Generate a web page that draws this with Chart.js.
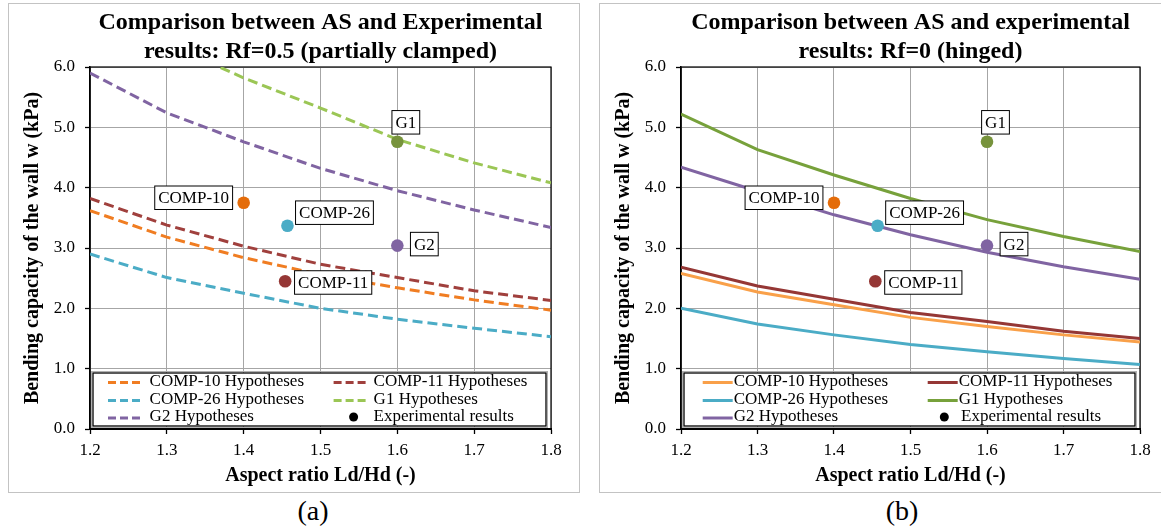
<!DOCTYPE html>
<html>
<head>
<meta charset="utf-8">
<script src="https://cdn.jsdelivr.net/npm/chart.js@4.4.0/dist/chart.umd.min.js"></script>
<style>
  body { margin: 0; background: #fff; width: 1161px; height: 528px; overflow: hidden; position: relative; font-family: "Liberation Serif", serif; }
  .panel { position: absolute; border: 1.5px solid #c3c3c3; box-sizing: border-box; }
  #boxA { left: 8px; top: 3px; width: 572px; height: 490px; }
  #boxB { left: 599px; top: 3px; width: 570px; height: 490px; }
  canvas { position: absolute; }
  #chartA { left: 9px; top: 5px; }
  #chartB { left: 600px; top: 5px; }
  .cap { position: absolute; top: 495px; width: 60px; font-size: 28px; line-height: 32px; text-align: center; }
</style>
</head>
<body>
<div class="panel" id="boxA"></div>
<div class="panel" id="boxB"></div>
<canvas id="chartA" width="570" height="486"></canvas>
<canvas id="chartB" width="561" height="486"></canvas>
<div class="cap" style="left:283px">(a)</div>
<div class="cap" style="left:872px">(b)</div>
<script>
// aspect ratios and axis ticks
const ratios = [1.2, 1.3, 1.4, 1.5, 1.6, 1.7, 1.8];
const xTicks = [1.2, 1.3, 1.4, 1.5, 1.6, 1.7, 1.8];
const yTicks = [0, 1, 2, 3, 4, 5, 6];
const seriesNames = ["COMP-10 Hypotheses", "COMP-11 Hypotheses", "COMP-26 Hypotheses", "G1 Hypotheses", "G2 Hypotheses"];

// Rf = 0.5 (partially clamped)
const clampComp10 = [3.62, 3.18, 2.84, 2.56, 2.34, 2.14, 1.97];
const clampComp11 = [3.82, 3.38, 3.03, 2.73, 2.51, 2.29, 2.13];
const clampComp26 = [2.90, 2.51, 2.25, 2.00, 1.82, 1.67, 1.53];
const clampG1 = [7.20, 6.39, 5.82, 5.32, 4.80, 4.41, 4.08];
const clampG2 = [5.90, 5.24, 4.76, 4.32, 3.95, 3.63, 3.34];

// Rf = 0 (hinged)
const hingeComp10 = [2.58, 2.27, 2.06, 1.85, 1.70, 1.56, 1.44];
const hingeComp11 = [2.68, 2.37, 2.15, 1.93, 1.78, 1.62, 1.50];
const hingeComp26 = [2.00, 1.74, 1.56, 1.40, 1.28, 1.17, 1.07];
const hingeG1 = [5.22, 4.63, 4.21, 3.82, 3.47, 3.19, 2.94];
const hingeG2 = [4.34, 3.94, 3.55, 3.22, 2.93, 2.69, 2.48];

// experimental results
const specimens = ["COMP-10", "COMP-26", "G1", "G2", "COMP-11"];
const testRatio = [1.40, 1.457, 1.60, 1.60, 1.454];
const testCapacity = [3.75, 3.37, 4.76, 3.04, 2.45];

const SERIF = '"Liberation Serif", "Times New Roman", serif';
const pointColors = ["#E46C0A", "#4BACC6", "#77933C", "#8064A2", "#953735"];
// tag box offsets from each point (px)
const tagDx = [-50, 47, 8.5, 27, 48];
const tagDy = [-5, -13, -19.5, -1.5, 1.3];

// white boxes with the specimen names
const pointTags = {
  id: "pointTags",
  afterDatasetsDraw(chart) {
    const meta = chart.getDatasetMeta(chart.data.datasets.length - 1);
    const ctx = chart.ctx;
    ctx.save();
    ctx.font = "17px " + SERIF;
    ctx.textAlign = "center";
    ctx.textBaseline = "middle";
    meta.data.forEach((pt, i) => {
      const txt = specimens[i];
      const w = ctx.measureText(txt).width + 7, h = 23.5;
      const cx = pt.x + tagDx[i], cy = pt.y + tagDy[i];
      ctx.fillStyle = "#fff";
      ctx.fillRect(cx - w / 2, cy - h / 2, w, h);
      ctx.strokeStyle = "#000";
      ctx.lineWidth = 1;
      ctx.strokeRect(cx - w / 2, cy - h / 2, w, h);
      ctx.fillStyle = "#000";
      ctx.fillText(txt, cx, cy + 1);
    });
    ctx.restore();
  }
};

// black frame round the plot area
const plotFrame = {
  id: "plotFrame",
  beforeDatasetsDraw(chart) {
    const { ctx, chartArea: a } = chart;
    ctx.save();
    ctx.strokeStyle = "#000";
    ctx.lineWidth = 1.2;
    ctx.strokeRect(a.left, a.top, a.right - a.left, a.bottom - a.top);
    ctx.restore();
  }
};

// legend drawn inside the plot, two columns
const boxLegend = {
  id: "boxLegend",
  afterDraw(chart, args, opts) {
    const { ctx, chartArea: a } = chart;
    const x0 = a.left + 3, x1 = a.right - 5, y0 = a.bottom - 56, y1 = a.bottom - 3;
    ctx.save();
    ctx.fillStyle = "#fff";
    ctx.fillRect(x0, y0, x1 - x0, y1 - y0);
    ctx.strokeStyle = "#b0b0b0";
    ctx.lineWidth = 1;
    ctx.strokeRect(x0 - 1.5, y0 - 1.5, x1 - x0 + 3, y1 - y0 + 3);
    ctx.strokeStyle = "#000";
    ctx.lineWidth = 1.3;
    ctx.strokeRect(x0, y0, x1 - x0, y1 - y0);
    ctx.font = "17px " + SERIF;
    ctx.textBaseline = "middle";
    const rows = [a.bottom - 47.5, a.bottom - 29.5, a.bottom - 12];
    chart.data.datasets.forEach((ds, k) => {
      const col = k % 2, y = rows[Math.floor(k / 2)];
      if (ds.showLine === false) {
        ctx.fillStyle = "#000";
        ctx.beginPath();
        ctx.arc(x0 + opts.dot, y, 4.5, 0, Math.PI * 2);
        ctx.fill();
        ctx.fillText(ds.label, x0 + opts.expText, y);
        return;
      }
      ctx.strokeStyle = ds.borderColor;
      ctx.lineWidth = 3;
      ctx.setLineDash(ds.borderDash ? [8, 4] : []);
      ctx.beginPath();
      ctx.moveTo(x0 + opts.sample[col][0], y + 1);
      ctx.lineTo(x0 + opts.sample[col][1], y + 1);
      ctx.stroke();
      ctx.setLineDash([]);
      ctx.fillStyle = "#000";
      ctx.fillText(ds.label, x0 + opts.text[col], y);
    });
    ctx.restore();
  }
};

function makeChart(id, title, series, colors, dashed, padRight, legendOpts) {
  const datasets = series.map((vals, i) => ({
    label: seriesNames[i],
    data: ratios.map((r, j) => ({ x: r, y: vals[j] })),
    borderColor: colors[i],
    borderWidth: 3,
    borderDash: dashed ? [10, 5] : undefined,
    pointRadius: 0,
    tension: 0,
    order: 1
  }));
  datasets.push({
    label: "Experimental results",
    data: testRatio.map((r, j) => ({ x: r, y: testCapacity[j] })),
    showLine: false,
    pointRadius: 6.3,
    pointBorderWidth: 0,
    pointBackgroundColor: pointColors,
    order: 0
  });
  return new Chart(document.getElementById(id), {
    type: "line",
    data: { datasets },
    plugins: [plotFrame, pointTags, boxLegend],
    options: {
      responsive: false,
      animation: false,
      layout: { padding: { right: padRight } },
      plugins: {
        legend: { display: false },
        tooltip: { enabled: false },
        title: {
          display: true,
          fullSize: false,
          text: title,
          color: "#000",
          font: { family: SERIF, size: 24, weight: "bold", lineHeight: "29px" },
          padding: { top: 3, bottom: 1 }
        },
        boxLegend: legendOpts
      },
      scales: {
        x: {
          type: "linear",
          min: 1.2,
          max: 1.8,
          afterFit: (s) => { s.height = 62; },
          afterBuildTicks: (s) => { s.ticks = xTicks.map((v) => ({ value: v })); },
          ticks: { callback: (v) => Number(v).toFixed(1), color: "#000", font: { family: SERIF, size: 17 }, padding: 6, autoSkip: false, maxRotation: 0 },
          grid: { color: "#a6a6a6", lineWidth: 1, tickColor: "#000", tickLength: 5, tickWidth: 1.3 },
          border: { color: "#000", width: 2 },
          title: { display: true, text: "Aspect ratio Ld/Hd (-)", color: "#000", font: { family: SERIF, size: 20, weight: "bold" }, padding: { top: 0, bottom: 3.5 } }
        },
        y: {
          min: 0,
          max: 6,
          afterFit: (s) => { s.width = 81; },
          afterBuildTicks: (s) => { s.ticks = yTicks.map((v) => ({ value: v })); },
          ticks: { callback: (v) => Number(v).toFixed(1), color: "#000", font: { family: SERIF, size: 17 }, padding: 10 },
          grid: { color: "#a6a6a6", lineWidth: 1, tickColor: "#000", tickLength: 5, tickWidth: 1.3 },
          border: { color: "#000", width: 1.5 },
          title: { display: true, text: "Bending capacity of the wall w (kPa)", color: "#000", font: { family: SERIF, size: 20, weight: "bold" }, padding: { top: 12, bottom: 0 } }
        }
      }
    }
  });
}

makeChart("chartA",
  ["Comparison between AS and Experimental", "results: Rf=0.5 (partially clamped)"],
  [clampComp10, clampComp11, clampComp26, clampG1, clampG2],
  ["#F07D22", "#A0403D", "#4BACC6", "#9BC655", "#8064A2"],
  true, 28,
  { sample: [[15, 47], [240.6, 272.6]], text: [56.6, 280.6], dot: 260.6, expText: 280.6 });

makeChart("chartB",
  ["Comparison between AS and experimental", "results: Rf=0 (hinged)"],
  [hingeComp10, hingeComp11, hingeComp26, hingeG1, hingeG2],
  ["#F9A049", "#953735", "#4BACC6", "#77A13B", "#8064A2"],
  false, 21,
  { sample: [[18.7, 48.7], [243.7, 273.7]], text: [49.7, 274.7], dot: 260.3, expText: 277 });
</script>
</body>
</html>
